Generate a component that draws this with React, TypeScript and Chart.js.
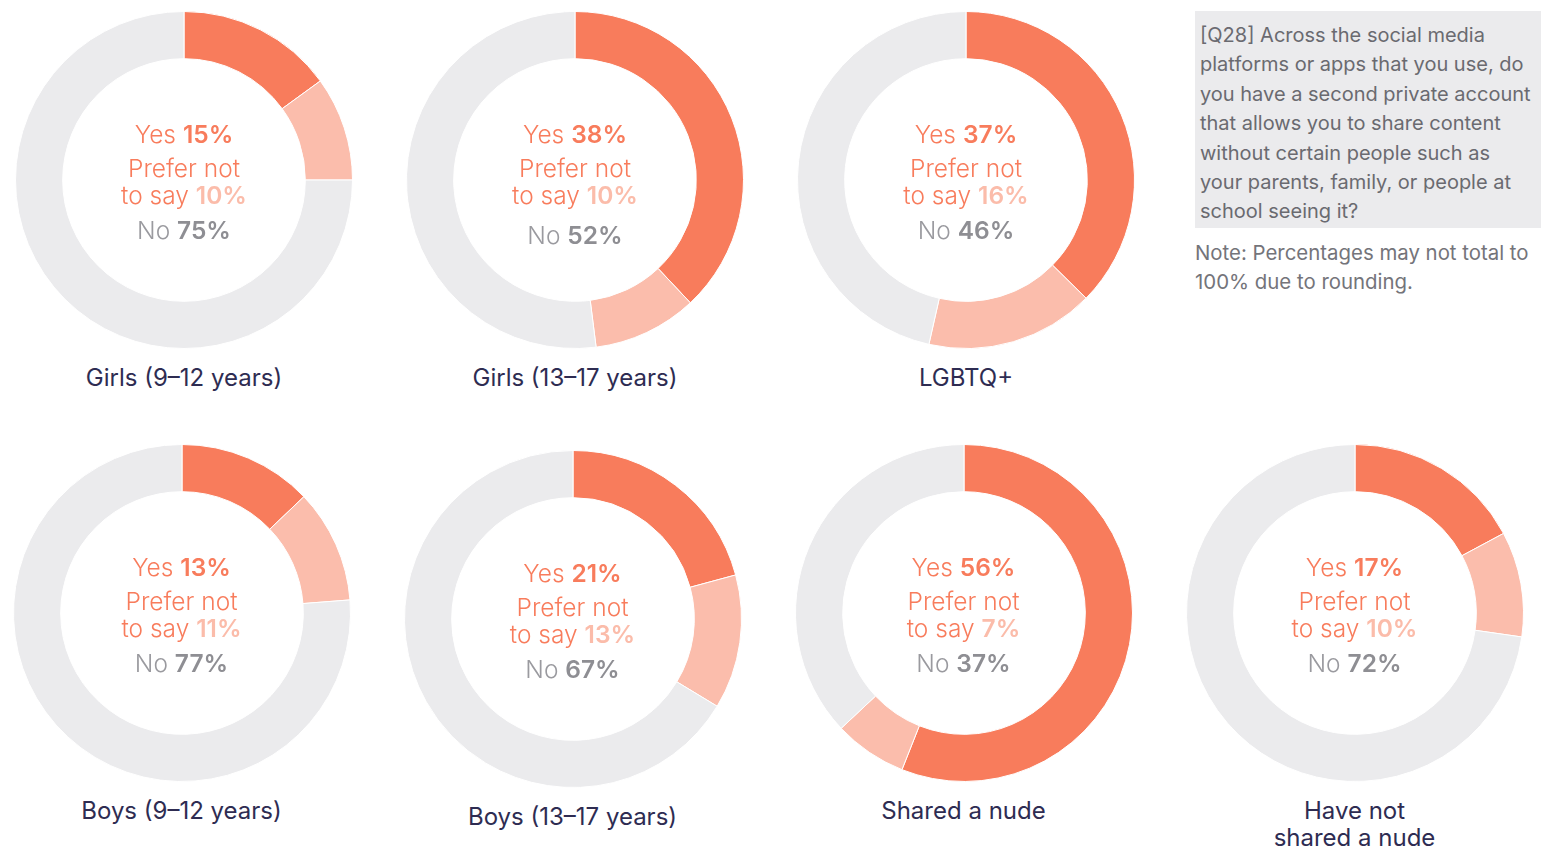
import React, { useEffect, useRef } from "react";
import { Chart, registerables } from "chart.js";

Chart.register(...registerables);

const groups = [
  "Girls (9–12 years)",
  "Girls (13–17 years)",
  "LGBTQ+",
  "Boys (9–12 years)",
  "Boys (13–17 years)",
  "Shared a nude",
  "Have not\nshared a nude",
];
const yesValues = [15, 38, 37, 13, 21, 56, 17];
const preferNotValues = [10, 10, 16, 11, 13, 7, 10];
const noValues = [75, 52, 46, 77, 67, 37, 72];
const answerLabels = ["Yes", "Prefer not to say", "No"];

const questionLines = [
  "[Q28] Across the social media",
  "platforms or apps that you use, do",
  "you have a second private account",
  "that allows you to share content",
  "without certain people such as",
  "your parents, family, or people at",
  "school seeing it?",
];
const noteLines = ["Note: Percentages may not total to", "100% due to rounding."];

const COLORS = ["#f87c5c", "#fbbdac", "#ebebed"];
const FONT = "Inter, 'Noto Sans', sans-serif";

const centers = [
  { x: 184, y: 180, noDy: 50 },
  { x: 575, y: 180, noDy: 55 },
  { x: 966, y: 180, noDy: 50 },
  { x: 181.5, y: 613, noDy: 50 },
  { x: 572.5, y: 618.5, noDy: 50 },
  { x: 963.5, y: 613, noDy: 50 },
  { x: 1354.5, y: 613, noDy: 50 },
];

const R = 169;

function Donut({ idx }: { idx: number }) {
  const ref = useRef<HTMLCanvasElement | null>(null);
  useEffect(() => {
    if (!ref.current) return;
    const chart = new Chart(ref.current, {
      type: "doughnut",
      data: {
        labels: answerLabels,
        datasets: [
          {
            data: [yesValues[idx], preferNotValues[idx], noValues[idx]],
            backgroundColor: COLORS,
            borderColor: "#ffffff",
            borderWidth: 1,
          },
        ],
      },
      options: {
        responsive: false,
        animation: false,
        cutout: "72%",
        layout: { padding: 0 },
        plugins: { legend: { display: false }, tooltip: { enabled: false } },
      },
    });
    return () => chart.destroy();
  }, [idx]);

  const c = centers[idx];
  const lineStyle = (dy: number): React.CSSProperties => ({
    position: "absolute",
    left: c.x - 150,
    width: 300,
    top: c.y + dy - 15,
    height: 30,
    lineHeight: "30px",
    textAlign: "center",
    fontSize: 24.5,
    fontWeight: 300,
    fontFamily: FONT,
    whiteSpace: "nowrap",
  });
  const bold: React.CSSProperties = { fontWeight: 600 };
  const labelLines = groups[idx].split("\n");
  return (
    <>
      <canvas
        ref={ref}
        width={R * 2}
        height={R * 2}
        style={{ position: "absolute", left: c.x - R, top: c.y - R, width: R * 2, height: R * 2 }}
      />
      <div style={{ ...lineStyle(-46), color: COLORS[0] }}>
        Yes <span style={bold}>{yesValues[idx]}%</span>
      </div>
      <div style={{ ...lineStyle(-12), color: COLORS[0] }}>Prefer not</div>
      <div style={{ ...lineStyle(15), color: COLORS[0] }}>
        to say <span style={{ ...bold, color: "#fbbcaa" }}>{preferNotValues[idx]}%</span>
      </div>
      <div style={{ ...lineStyle(c.noDy), color: "#9a9a9f" }}>
        No <span style={{ ...bold, color: "#8e8e93" }}>{noValues[idx]}%</span>
      </div>
      {labelLines.map((t, i) => (
        <div
          key={i}
          style={{
            position: "absolute",
            left: c.x - 200,
            width: 400,
            top: c.y + 198 + i * 27 - 15,
            height: 30,
            lineHeight: "30px",
            textAlign: "center",
            fontSize: 24,
            fontFamily: FONT,
            color: "#2e2c52",
            whiteSpace: "nowrap",
          }}
        >
          {t}
        </div>
      ))}
    </>
  );
}

export default function App() {
  return (
    <div
      style={{
        position: "absolute",
        left: 0,
        top: 0,
        width: 1549,
        height: 848,
        background: "#ffffff",
        overflow: "hidden",
      }}
    >
      {groups.map((_, i) => (
        <Donut key={i} idx={i} />
      ))}
      <div
        style={{
          position: "absolute",
          left: 1195,
          top: 11,
          width: 346,
          height: 217,
          background: "#ebebed",
          boxSizing: "border-box",
          padding: "10px 0 0 5px",
          fontFamily: FONT,
          fontSize: 20,
          lineHeight: "29.4px",
          color: "#6a6a70",
          whiteSpace: "nowrap",
        }}
      >
        {questionLines.map((l, i) => (
          <div key={i}>{l}</div>
        ))}
      </div>
      <div
        style={{
          position: "absolute",
          left: 1195,
          top: 238,
          width: 354,
          fontFamily: FONT,
          fontSize: 20.4,
          lineHeight: "29.4px",
          color: "#74747a",
          whiteSpace: "nowrap",
        }}
      >
        {noteLines.map((l, i) => (
          <div key={i}>{l}</div>
        ))}
      </div>
    </div>
  );
}
